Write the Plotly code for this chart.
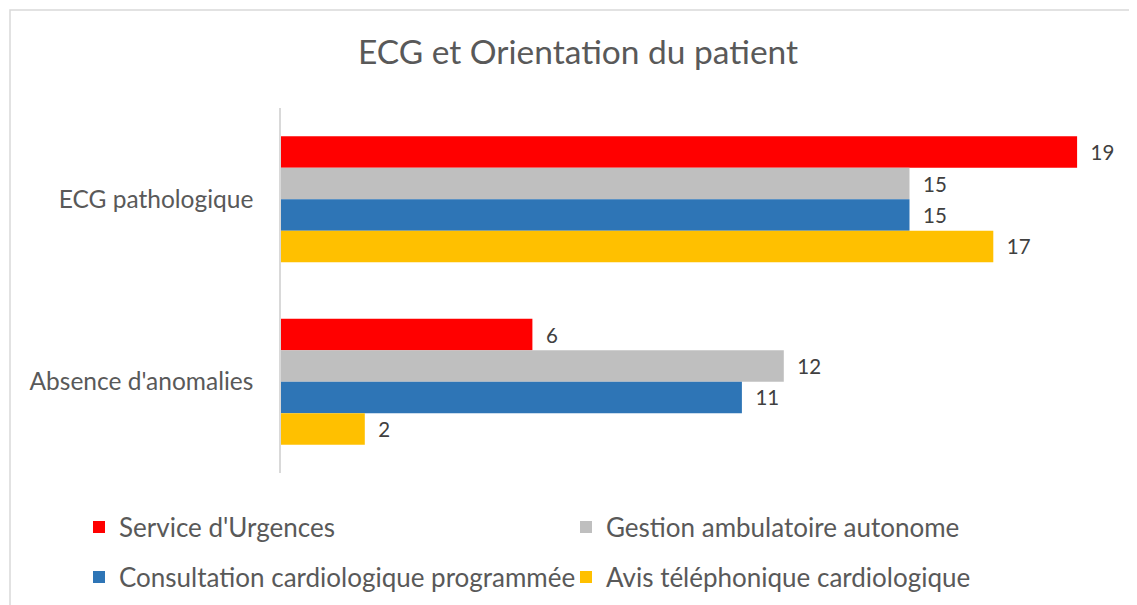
import plotly.graph_objects as go

categories = ["ECG pathologique", "Absence d'anomalies"]
series_names = ["Service d'Urgences", "Gestion ambulatoire autonome",
                "Consultation cardiologique programmée", "Avis téléphonique cardiologique"]
service_urgences = [19, 6]
gestion_ambulatoire = [15, 12]
consultation_programmee = [15, 11]
avis_telephonique = [17, 2]
colors = ["#FF0000", "#BFBFBF", "#2E75B6", "#FFC000"]
legend_ids = ["legend", "legend", "legend2", "legend2"]

W, H = 1137, 605
OFF = 8  # page body margin
L, R, T, B = 281 - OFF, 26, 108 - OFF, 140
pw = W - L - R
ph = H - T - B

def px_x(p):
    return (p - OFF - L) / pw

def px_y(p):
    return (H - B - (p - OFF)) / ph

fig = go.Figure()
for name, vals, col, lg in zip(series_names,
                               [service_urgences, gestion_ambulatoire, consultation_programmee, avis_telephonique],
                               colors, legend_ids):
    fig.add_trace(go.Bar(
        y=categories, x=vals, name=name, orientation="h",
        marker=dict(color=col, line=dict(width=0)),
        texttemplate="  %{x}", textposition="outside",
        textfont=dict(family="Lato", size=20.5, color="#404040"),
        cliponaxis=False, legend=lg,
    ))

leg_common = dict(orientation="h", xanchor="left", yanchor="middle",
                  entrywidth=442, entrywidthmode="pixels", itemwidth=30,
                  traceorder="normal", font=dict(family="Lato", size=26, color="#595959"),
                  bgcolor="rgba(0,0,0,0)")

fig.update_layout(
    width=W, height=H,
    margin=dict(l=L, r=R, t=T, b=B),
    paper_bgcolor="white", plot_bgcolor="white",
    barmode="group", bargap=0.31, bargroupgap=0,
    font=dict(family="Lato", color="#595959"),
    title=dict(text="ECG et Orientation du patient", x=(578 - OFF) / W, xanchor="center",
               y=(H - (52 - OFF)) / H, yanchor="middle", xref="container", yref="container",
               font=dict(family="Lato", size=33.5, color="#595959")),
    xaxis=dict(range=[0, 20], showgrid=False, zeroline=False, showticklabels=False,
               showline=False, ticks=""),
    yaxis=dict(autorange="reversed", showgrid=False, showline=True, linecolor="#D9D9D9",
               linewidth=1.5, ticks="", ticklabelstandoff=21,
               tickfont=dict(family="Lato", size=24.5, color="#595959")),
    legend=dict(x=px_x(79), y=px_y(527), **leg_common),
    legend2=dict(x=px_x(79), y=px_y(577), **leg_common),
    shapes=[dict(type="rect", xref="paper", yref="paper",
                 x0=px_x(10), x1=px_x(1170), y0=px_y(650), y1=px_y(10),
                 line=dict(color="#D9D9D9", width=1.5), fillcolor="rgba(0,0,0,0)", layer="below")],
)

fig.write_html("out.html")
